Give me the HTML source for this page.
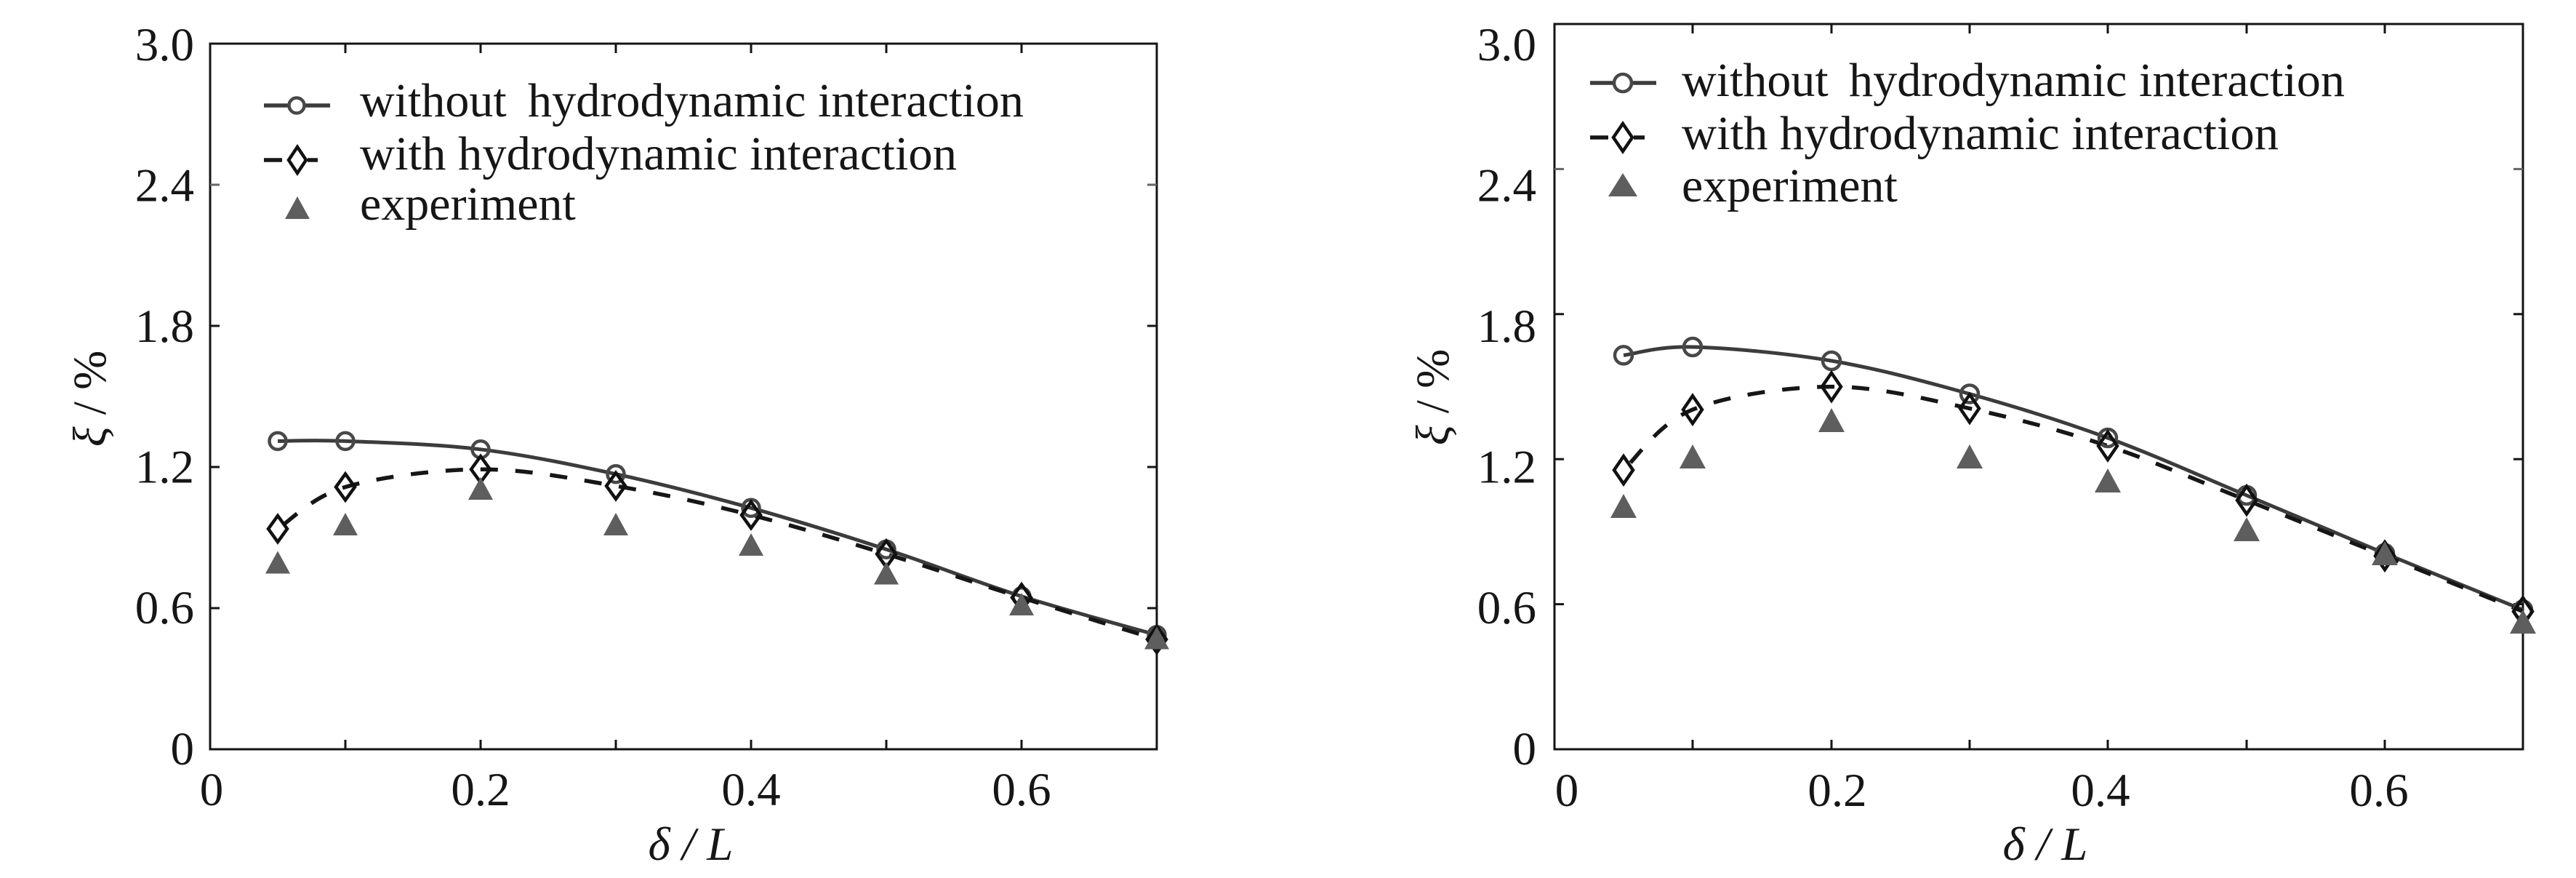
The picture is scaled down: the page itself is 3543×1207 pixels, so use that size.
<!DOCTYPE html>
<html>
<head>
<meta charset="utf-8">
<style>
  html, body { margin:0; padding:0; background:#ffffff; }
  svg { display:block; }
  text { font-family: "Liberation Serif", "DejaVu Serif", serif; fill:#161616; }
</style>
</head>
<body>
<svg width="3543" height="1207" viewBox="0 0 3543 1207" xmlns="http://www.w3.org/2000/svg">
  <rect x="0" y="0" width="3543" height="1207" fill="#ffffff"/>

  <!-- ================= LEFT PLOT ================= -->
  <g>
    <!-- axes box -->
    <rect x="289" y="60" width="1302" height="970" fill="none" stroke="#141414" stroke-width="3"/>
    <!-- x ticks bottom & top -->
    <g stroke="#141414" stroke-width="3">
      <line x1="475" y1="1030" x2="475" y2="1017"/><line x1="661" y1="1030" x2="661" y2="1017"/>
      <line x1="847" y1="1030" x2="847" y2="1017"/><line x1="1033" y1="1030" x2="1033" y2="1017"/>
      <line x1="1219" y1="1030" x2="1219" y2="1017"/><line x1="1405" y1="1030" x2="1405" y2="1017"/>
      <line x1="475" y1="60" x2="475" y2="73"/><line x1="661" y1="60" x2="661" y2="73"/>
      <line x1="847" y1="60" x2="847" y2="73"/><line x1="1033" y1="60" x2="1033" y2="73"/>
      <line x1="1219" y1="60" x2="1219" y2="73"/><line x1="1405" y1="60" x2="1405" y2="73"/>
      <!-- y ticks -->
      <line x1="289" y1="836" x2="302" y2="836"/><line x1="289" y1="642" x2="302" y2="642"/>
      <line x1="289" y1="448" x2="302" y2="448"/><line x1="289" y1="254" x2="302" y2="254" stroke="#666"/>
      <line x1="1591" y1="836" x2="1578" y2="836"/><line x1="1591" y1="642" x2="1578" y2="642"/>
      <line x1="1591" y1="448" x2="1578" y2="448"/><line x1="1591" y1="254" x2="1578" y2="254" stroke="#666"/>
    </g>
    <!-- y tick labels -->
    <g font-size="65" text-anchor="end">
      <text x="267" y="83">3.0</text>
      <text x="267" y="276.5">2.4</text>
      <text x="267" y="470">1.8</text>
      <text x="267" y="663.5">1.2</text>
      <text x="267" y="857">0.6</text>
      <text x="267" y="1051">0</text>
    </g>
    <!-- x tick labels -->
    <g font-size="65" text-anchor="middle">
      <text x="291" y="1107">0</text>
      <text x="661" y="1107">0.2</text>
      <text x="1033" y="1107">0.4</text>
      <text x="1405" y="1107">0.6</text>
    </g>
    <!-- axis titles -->
    <text x="950" y="1182" font-size="65" text-anchor="middle" font-style="italic">δ / L</text>
    <text transform="translate(145,548) rotate(-90)" font-size="65" text-anchor="middle"><tspan font-style="italic">ξ</tspan> / %</text>

    <!-- curves -->
    <path d="M382,606.4 C397.5,606.4 428.5,604.5 475,606.4 C521.5,608.3 599,610.25 661,617.8 C723,625.35 785,638.3 847,651.7 C909,665.1 971,681.05 1033,698.3 C1095,715.55 1157,734.95 1219,755.2 C1281,775.45 1343,800.18 1405,819.8 C1467,839.42 1560,864.05 1591,872.9"
          fill="none" stroke="#3c3c3c" stroke-width="5"/>
    <path d="M382,727 C397.5,717.4 428.5,683.1 475,669.5 C521.5,655.87 599,645.45 661,645.2 C723,644.95 785,657.53 847,668 C909,678.47 971,692.4 1033,708 C1095,723.6 1157,742.68 1219,761.6 C1281,780.52 1343,801.93 1405,821.5 C1467,841.07 1560,869.42 1591,879"
          fill="none" stroke="#161616" stroke-width="5.5" stroke-dasharray="24 24" stroke-dashoffset="-10"/>

    <!-- circles -->
    <g fill="none" stroke="#484848" stroke-width="4.5">
      <circle cx="382" cy="606.4" r="11.5"/><circle cx="475" cy="606.4" r="11.5"/>
      <circle cx="661" cy="617.8" r="11.5"/><circle cx="847" cy="651.7" r="11.5"/>
      <circle cx="1033" cy="698.3" r="11.5"/><circle cx="1219" cy="755.2" r="11.5"/>
      <circle cx="1405" cy="819.8" r="11.5"/><circle cx="1591" cy="872.9" r="11.5"/>
    </g>
    <!-- diamonds -->
    <g fill="none" stroke="#111111" stroke-width="4.5">
      <polygon points="382,709 395,727 382,745 369,727"/>
      <polygon points="475,651.5 488,669.5 475,687.5 462,669.5"/>
      <polygon points="661,627.2 674,645.2 661,663.2 648,645.2"/>
      <polygon points="847,650 860,668 847,686 834,668"/>
      <polygon points="1033,690 1046,708 1033,726 1020,708"/>
      <polygon points="1219,743.6 1232,761.6 1219,779.6 1206,761.6"/>
      <polygon points="1405,803.5 1418,821.5 1405,839.5 1392,821.5"/>
      <polygon points="1591,861 1604,879 1591,897 1578,879"/>
    </g>
    <!-- triangles -->
    <g fill="#5e5e5e">
      <polygon points="382,757.5 399,788.5 365,788.5"/>
      <polygon points="475,705 492,736 458,736"/>
      <polygon points="661,656 678,687 644,687"/>
      <polygon points="847,705 864,736 830,736"/>
      <polygon points="1033,733 1050,764 1016,764"/>
      <polygon points="1219,772.5 1236,803.5 1202,803.5"/>
      <polygon points="1405,815 1422,846 1388,846"/>
      <polygon points="1591,861.5 1608,892.5 1574,892.5"/>
    </g>

    <!-- legend -->
    <line x1="363" y1="145" x2="454" y2="145" stroke="#3c3c3c" stroke-width="5.5"/>
    <circle cx="408" cy="145" r="10.5" fill="#ffffff" stroke="#484848" stroke-width="4.5"/>
    <line x1="408" y1="145" x2="408" y2="145"/>
    <line x1="363" y1="220" x2="388" y2="220" stroke="#161616" stroke-width="5.5"/>
    <line x1="423" y1="220" x2="437" y2="220" stroke="#161616" stroke-width="5.5"/>
    <polygon points="409,202 421,220 409,238 397,220" fill="none" stroke="#111" stroke-width="4.5"/>
    <polygon points="409,270 426,301 392,301" fill="#5e5e5e"/>
    <g font-size="66">
      <text x="495" y="160">without</text>
      <text x="726" y="160" textLength="682" lengthAdjust="spacingAndGlyphs">hydrodynamic interaction</text>
      <text x="495" y="233" textLength="821" lengthAdjust="spacingAndGlyphs">with hydrodynamic interaction</text>
      <text x="495" y="302">experiment</text>
    </g>
  </g>

  <!-- ================= RIGHT PLOT ================= -->
  <g>
    <rect x="2138" y="33" width="1332" height="997" fill="none" stroke="#141414" stroke-width="3"/>
    <g stroke="#141414" stroke-width="3">
      <line x1="2328" y1="1030" x2="2328" y2="1017"/><line x1="2519" y1="1030" x2="2519" y2="1017"/>
      <line x1="2709" y1="1030" x2="2709" y2="1017"/><line x1="2899" y1="1030" x2="2899" y2="1017"/>
      <line x1="3090" y1="1030" x2="3090" y2="1017"/><line x1="3280" y1="1030" x2="3280" y2="1017"/>
      <line x1="2328" y1="33" x2="2328" y2="46"/><line x1="2519" y1="33" x2="2519" y2="46"/>
      <line x1="2709" y1="33" x2="2709" y2="46"/><line x1="2899" y1="33" x2="2899" y2="46"/>
      <line x1="3090" y1="33" x2="3090" y2="46"/><line x1="3280" y1="33" x2="3280" y2="46"/>
      <line x1="2138" y1="830.6" x2="2151" y2="830.6"/><line x1="2138" y1="631.2" x2="2151" y2="631.2"/>
      <line x1="2138" y1="431.8" x2="2151" y2="431.8"/><line x1="2138" y1="232.4" x2="2151" y2="232.4" stroke="#666"/>
      <line x1="3470" y1="830.6" x2="3457" y2="830.6"/><line x1="3470" y1="631.2" x2="3457" y2="631.2"/>
      <line x1="3470" y1="431.8" x2="3457" y2="431.8"/><line x1="3470" y1="232.4" x2="3457" y2="232.4" stroke="#666"/>
    </g>
    <g font-size="65" text-anchor="end">
      <text x="2113" y="83">3.0</text>
      <text x="2113" y="276.5">2.4</text>
      <text x="2113" y="470">1.8</text>
      <text x="2113" y="663.5">1.2</text>
      <text x="2113" y="857">0.6</text>
      <text x="2113" y="1051">0</text>
    </g>
    <g font-size="65" text-anchor="middle">
      <text x="2155" y="1108">0</text>
      <text x="2527" y="1108">0.2</text>
      <text x="2889" y="1108">0.4</text>
      <text x="3272" y="1108">0.6</text>
    </g>
    <text x="2813" y="1182" font-size="65" text-anchor="middle" font-style="italic">δ / L</text>
    <text transform="translate(1992,546) rotate(-90)" font-size="65" text-anchor="middle"><tspan font-style="italic">ξ</tspan> / %</text>

    <path d="M2233,488.4 C2248.8,486.5 2280.3,475.73 2328,477 C2375.7,478.27 2455.5,485.25 2519,496 C2582.5,506.75 2645.7,523.83 2709,541.5 C2772.3,559.17 2835.5,578.75 2899,602 C2962.5,625.25 3026.5,654.53 3090,681 C3153.5,707.47 3216.7,734.58 3280,760.8 C3343.3,787.02 3438.3,825.38 3470,838.3"
          fill="none" stroke="#3c3c3c" stroke-width="5"/>
    <path d="M2233,646.2 C2248.8,632.35 2280.3,582.2 2328,563.1 C2375.7,544 2455.5,531.87 2519,531.6 C2582.5,531.33 2645.7,547.93 2709,561.5 C2772.3,575.07 2835.5,591.97 2899,613 C2962.5,634.03 3026.5,662.5 3090,687.7 C3153.5,712.9 3216.7,738.72 3280,764.2 C3343.3,789.68 3438.3,827.87 3470,840.6"
          fill="none" stroke="#161616" stroke-width="5.5" stroke-dasharray="24 24" stroke-dashoffset="-14"/>

    <g fill="none" stroke="#484848" stroke-width="4.5">
      <circle cx="2233" cy="488.4" r="12"/><circle cx="2328" cy="477" r="12"/>
      <circle cx="2519" cy="496" r="12"/><circle cx="2709" cy="541.5" r="12"/>
      <circle cx="2899" cy="602" r="12"/><circle cx="3090" cy="681" r="12"/>
      <circle cx="3280" cy="760.8" r="12"/><circle cx="3470" cy="838.3" r="12"/>
    </g>
    <g fill="none" stroke="#111111" stroke-width="4.5">
      <polygon points="2233,627.2 2246,646.2 2233,665.2 2220,646.2"/>
      <polygon points="2328,544.1 2341,563.1 2328,582.1 2315,563.1"/>
      <polygon points="2519,512.6 2532,531.6 2519,550.6 2506,531.6"/>
      <polygon points="2709,542.5 2722,561.5 2709,580.5 2696,561.5"/>
      <polygon points="2899,594 2912,613 2899,632 2886,613"/>
      <polygon points="3090,668.7 3103,687.7 3090,706.7 3077,687.7"/>
      <polygon points="3280,745.2 3293,764.2 3280,783.2 3267,764.2"/>
      <polygon points="3470,821.6 3483,840.6 3470,859.6 3457,840.6"/>
    </g>
    <g fill="#5e5e5e">
      <polygon points="2233,679 2251,712 2215,712"/>
      <polygon points="2328,611 2346,644 2310,644"/>
      <polygon points="2519,561 2537,594 2501,594"/>
      <polygon points="2709,611 2727,644 2691,644"/>
      <polygon points="2899,644 2917,677 2881,677"/>
      <polygon points="3090,711 3108,744 3072,744"/>
      <polygon points="3280,744 3298,777 3262,777"/>
      <polygon points="3470,838 3488,871 3452,871"/>
    </g>

    <!-- legend -->
    <line x1="2187" y1="114" x2="2278" y2="114" stroke="#3c3c3c" stroke-width="5.5"/>
    <circle cx="2232" cy="114" r="12" fill="#ffffff" stroke="#484848" stroke-width="4.5"/>
    <line x1="2187" y1="189" x2="2212" y2="189" stroke="#161616" stroke-width="5.5"/>
    <line x1="2247" y1="189" x2="2262" y2="189" stroke="#161616" stroke-width="5.5"/>
    <polygon points="2232,170 2245,189 2232,208 2219,189" fill="none" stroke="#111" stroke-width="4.5"/>
    <polygon points="2232,238 2252,270 2212,270" fill="#5e5e5e"/>
    <g font-size="66">
      <text x="2313" y="132">without</text>
      <text x="2543" y="132" textLength="682" lengthAdjust="spacingAndGlyphs">hydrodynamic interaction</text>
      <text x="2313" y="205" textLength="821" lengthAdjust="spacingAndGlyphs">with hydrodynamic interaction</text>
      <text x="2313" y="277">experiment</text>
    </g>
  </g>
</svg>
</body>
</html>
